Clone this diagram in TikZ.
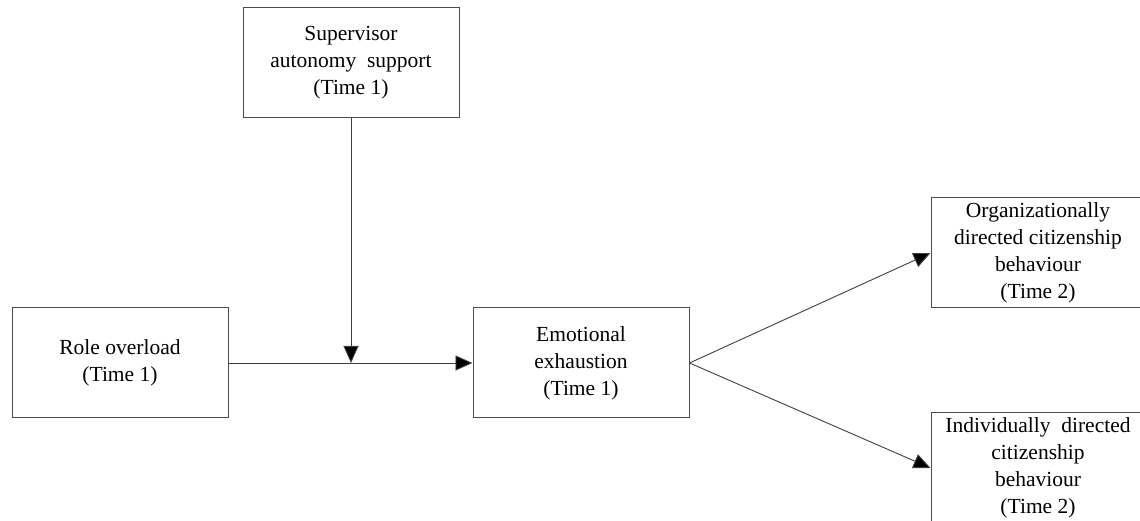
\documentclass[tikz,border=0pt]{standalone}
\usepackage{fontspec}
\setmainfont{Liberation Serif}
\newfontfamily\figfont{Liberation Serif}
\usetikzlibrary{arrows.meta}
\begin{document}
\begin{tikzpicture}[x=1pt,y=1pt,
  box/.style={draw=black!70, line width=1pt, rectangle, inner sep=0pt,
    minimum width=216pt, minimum height=110pt, align=center,
    font=\figfont\fontsize{21.5}{27}\selectfont},
  conn/.style={draw=black!75, line width=0.9pt,
    -{Triangle[length=17pt,width=15pt,fill=black]}}]
\useasboundingbox (0,0) rectangle (1140,521);
\clip (0,0) rectangle (1140,521);
\fill[white] (0,0) rectangle (1140,521);
\node[box] (sup) at (351,458) {Supervisor\\autonomy\ \ support\\(Time 1)};
\node[box] (ro) at (120,158) {Role overload\\(Time 1)};
\node[box] (ee) at (581,158) {Emotional\\exhaustion\\(Time 1)};
\node[box, minimum width=214pt] (ocb) at (1038,268) {Organizationally\\directed citizenship\\behaviour\\(Time 2)};
\node[box, minimum width=214pt] (icb) at (1038,53) {Individually\ \ directed\\citizenship\\behaviour\\(Time 2)};
\coordinate (m) at (sup.south |- ro.east);
\draw[conn] (ro.east) -- (ee.west);
\draw[conn] (sup.south) -- (m);
\draw[conn] (ee.east) -- (ocb.west);
\draw[conn] (ee.east) -- (icb.west);
\end{tikzpicture}
\end{document}
